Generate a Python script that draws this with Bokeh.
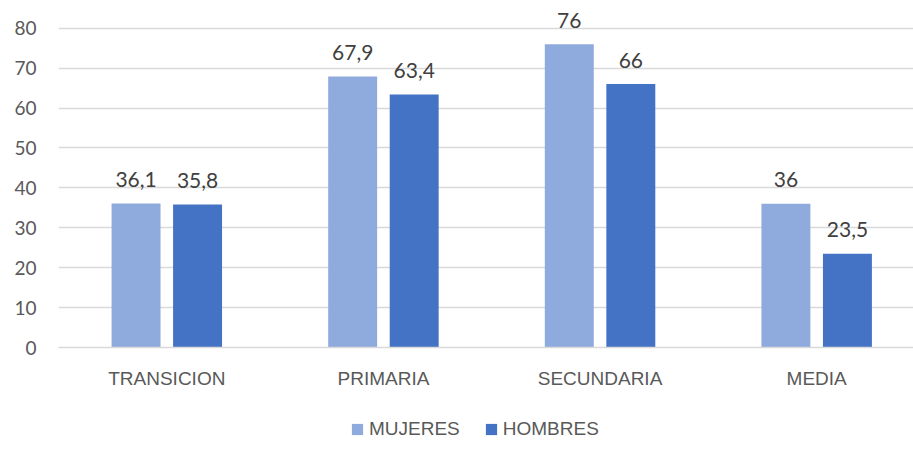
from bokeh.plotting import figure
from bokeh.models import ColumnDataSource, Range1d, FixedTicker, Legend, LegendItem
from bokeh.transform import dodge
from bokeh.layouts import column
from bokeh.embed import file_html
from bokeh.resources import INLINE
from bokeh.core.properties import value

categories = ["TRANSICION", "PRIMARIA", "SECUNDARIA", "MEDIA"]
mujeres = [36.1, 67.9, 76, 36]
hombres = [35.8, 63.4, 66, 23.5]
mujeres_labels = ["36,1", "67,9", "76", "36"]
hombres_labels = ["35,8", "63,4", "66", "23,5"]
y_ticks = [0, 10, 20, 30, 40, 50, 60, 70, 80]
series_names = ["MUJERES", "HOMBRES"]

xpos = [i + 0.5 for i in range(len(categories))]
src = ColumnDataSource(dict(x=xpos, m=mujeres, h=hombres, ml=mujeres_labels, hl=hombres_labels))

C_M = "#8FAADC"
C_H = "#4472C4"
GRID = "#D9D9D9"
NUM_FONT = "Lato"
CAT_FONT = "Liberation Sans"

p = figure(frame_width=855, frame_height=339, output_backend="svg", toolbar_location=None,
           x_range=Range1d(0, 3.947), y_range=Range1d(0, 84.94),
           min_border_left=58, min_border_right=0, min_border_top=8, min_border_bottom=50)
p.outline_line_color = None
p.background_fill_color = "white"
p.border_fill_color = "white"

off = 0.142
w = 0.226
p.vbar(x=dodge("x", -off, range=p.x_range), top="m", width=w, source=src, fill_color=C_M, line_color=None)
p.vbar(x=dodge("x", off, range=p.x_range), top="h", width=w, source=src, fill_color=C_H, line_color=None)

p.text(x=dodge("x", -off, range=p.x_range), y="m", text="ml", source=src, text_align="center",
       text_baseline="alphabetic", y_offset=-24, text_font=value(NUM_FONT), text_font_size="21px",
       text_color="#404040")
p.text(x=dodge("x", off, range=p.x_range), y="h", text="hl", source=src, text_align="center",
       text_baseline="alphabetic", y_offset=-24, text_font=value(NUM_FONT), text_font_size="21px",
       text_color="#404040")

# axes
p.xaxis.ticker = FixedTicker(ticks=xpos)
p.xaxis.major_label_overrides = {x: c for x, c in zip(xpos, categories)}
p.xaxis.axis_line_color = GRID
p.xaxis.axis_line_width = 1.5
p.xaxis.major_tick_line_color = None
p.xaxis.minor_tick_line_color = None
p.xaxis.major_tick_out = 0
p.xaxis.major_label_standoff = 20
p.xaxis.major_label_text_font = CAT_FONT
p.xaxis.major_label_text_font_size = "19px"
p.xaxis.major_label_text_color = "#595959"

p.yaxis.ticker = FixedTicker(ticks=y_ticks)
p.yaxis.axis_line_color = None
p.yaxis.major_tick_line_color = None
p.yaxis.minor_tick_line_color = None
p.yaxis.major_tick_out = 0
p.yaxis.major_label_standoff = 22
p.yaxis.major_label_text_font = NUM_FONT
p.yaxis.major_label_text_font_size = "19px"
p.yaxis.major_label_text_color = "#595959"

p.xgrid.grid_line_color = None
p.ygrid.grid_line_color = GRID
p.ygrid.grid_line_width = 1.5

# legend strip (separate small figure so the legend is not clipped);
# its proxy bars use the same data but lie outside this strip's visible range
lf = figure(frame_width=913, frame_height=50, output_backend="svg", toolbar_location=None,
            x_range=Range1d(100, 101), y_range=Range1d(1000, 1001),
            x_axis_location=None, y_axis_location=None,
            min_border_left=0, min_border_right=0, min_border_top=0, min_border_bottom=0)
lf.outline_line_color = None
lf.grid.visible = False
lm = lf.vbar(x="x", top="m", width=w, source=src, fill_color=C_M, line_color=None)
lh = lf.vbar(x="x", top="h", width=w, source=src, fill_color=C_H, line_color=None)

legend = Legend(items=[LegendItem(label=series_names[0], renderers=[lm]),
                       LegendItem(label=series_names[1], renderers=[lh])],
                orientation="horizontal", location=(350, 7))
legend.border_line_color = None
legend.background_fill_alpha = 0
legend.label_text_font = CAT_FONT
legend.label_text_font_size = "19px"
legend.label_text_color = "#595959"
legend.glyph_width = 14
legend.glyph_height = 14
legend.label_standoff = 5
legend.spacing = 24
legend.padding = 2
legend.margin = 0
lf.add_layout(legend, "center")

layout = column(p, lf, spacing=0)
open("out.html", "w").write(file_html(layout, INLINE))
